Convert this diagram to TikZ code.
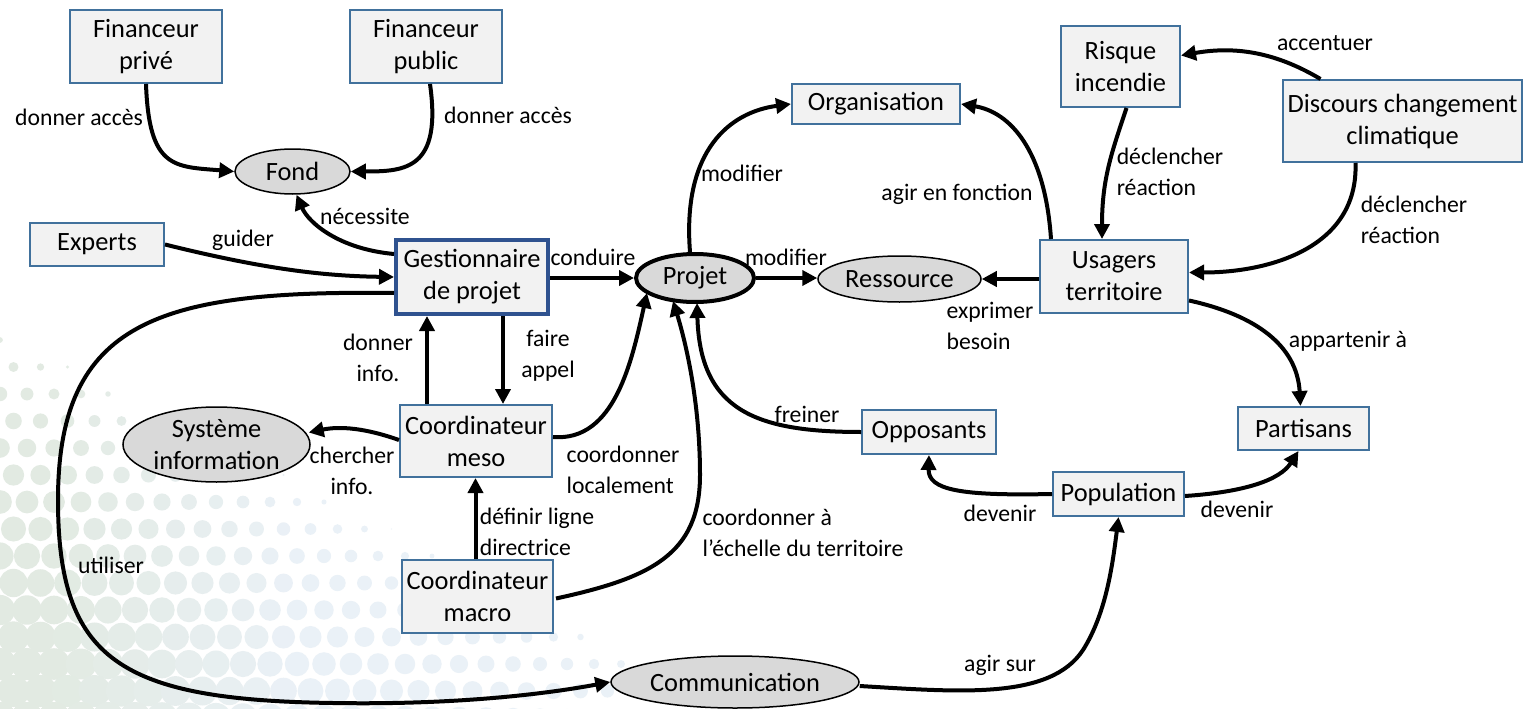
\documentclass[tikz,border=0pt]{standalone}
\usepackage{fontspec}
\setmainfont{Carlito}
\usetikzlibrary{arrows.meta,shapes.geometric,calc}
\definecolor{boxblue}{HTML}{41719C}
\definecolor{gestblue}{HTML}{2F528F}
\definecolor{boxfill}{HTML}{F2F2F2}
\definecolor{ellfill}{HTML}{D9D9D9}
\definecolor{dotG}{HTML}{E2EAE2}
\definecolor{dotB}{HTML}{EAF1F7}
\newcommand\nodefnt{\fontsize{26.4}{32}\selectfont}
\newcommand\labfnt{\fontsize{23.7}{31}\selectfont}
\begin{document}
\begin{tikzpicture}[x=1pt,y=-1pt,
 box/.style={draw=boxblue, fill=boxfill, line width=2pt, align=center, inner sep=0pt, font=\nodefnt},
 ell/.style={ellipse, draw=black, fill=ellfill, line width=1.5pt, inner sep=0pt},
 etxt/.style={align=center, inner sep=0pt, font=\nodefnt},
 lab/.style={align=left, inner sep=0pt, font=\labfnt},
 labc/.style={align=center, inner sep=0pt, font=\labfnt},
 arr/.style={line width=4pt, -{Triangle[length=15pt,width=15pt]}},
]
\fill[white] (0,0) rectangle (1532,709);
\useasboundingbox (0,0) rectangle (1532,709);

% faint halftone background, lower left
\begin{scope}
\clip (0,0) rectangle (1532,709);
\foreach \j in {0,...,14}{
 \foreach \i in {0,...,25}{
  \pgfmathsetmacro\dxx{13.5*mod(\j,2)+27*\i}
  \pgfmathsetmacro\dyy{340+27*\j}
  \pgfmathsetmacro\dff{min(1,max(0,(\dyy-330)/330*1.05-\dxx/620))}
  \pgfmathsetmacro\drr{16*sqrt(\dff)}
  \pgfmathsetmacro\dmix{max(0,min(100,(300-\dxx)/2.5))}
  \ifdim\drr pt>0.6pt \fill[dotG!\dmix!dotB] (\dxx,\dyy) circle[radius=\drr pt]; \fi
 }
}
\end{scope}

% boxes
\node[box, minimum width=152pt, minimum height=73pt] (fpriv) at (146,46.5) {Financeur\\privé};
\node[box, minimum width=152pt, minimum height=73pt] (fpub) at (426,46.5) {Financeur\\public};
\node[box, minimum width=134pt, minimum height=43pt] (exp) at (97,244.5) {Experts};
\node[box, draw=gestblue, line width=4pt, minimum width=152pt, minimum height=74pt] (gest) at (472,277) {Gestionnaire\\de projet};
\node[box, minimum width=168pt, minimum height=40pt] (org) at (876,104) {Organisation};
\node[box, minimum width=119pt, minimum height=81pt] (risque) at (1120.5,66.5) {Risque\\incendie};
\node[box, minimum width=239pt, minimum height=82pt] (disc) at (1402.5,121) {Discours changement\\climatique};
\node[box, minimum width=148pt, minimum height=73pt] (usag) at (1114,276.5) {Usagers\\territoire};
\node[box, minimum width=131pt, minimum height=43pt] (part) at (1303.5,428.5) {Partisans};
\node[box, minimum width=131pt, minimum height=44pt] (pop) at (1118.5,494) {Population};
\node[box, minimum width=134pt, minimum height=44pt] (opp) at (929,432) {Opposants};
\node[box, minimum width=152pt, minimum height=72pt] (meso) at (476,441) {Coordinateur\\meso};
\node[box, minimum width=151pt, minimum height=73pt] (macro) at (477.5,596.5) {Coordinateur\\macro};

% ellipses
\node[ell, minimum width=115pt, minimum height=45pt] (fond) at (292.5,171.5) {};
\node[etxt] (fondt) at (fond) {Fond};
\node[ell, line width=4pt, minimum width=118pt, minimum height=48pt] (projet) at (695,278) {};
\node[etxt] (projett) at (projet) {Projet};
\node[ell, minimum width=163pt, minimum height=46pt] (res) at (899.5,279) {};
\node[etxt] (rest) at (res) {Ressource};
\node[ell, minimum width=248pt, minimum height=52pt] (comm) at (735,682) {};
\node[etxt] (commt) at (comm) {Communication};
\node[ell, minimum width=187pt, minimum height=75pt] (sys) at (216.5,444.5) {};
\node[etxt] (syst) at (sys) {Système\\information};

% connectors
\draw[arr] (fpriv.south) .. controls +(3,85) and +(-60,-5) .. (fond.west);
\draw[arr] ($(fpub.south)+(4,0)$) .. controls +(12,85) and +(55,0) .. (fond.east);
\draw[arr] ($(gest.north west)+(0,16)$) .. controls +(-55,-5) and +(12,28) .. ($(fond.south)+(4,0)$);
\draw[arr] (exp.east) .. controls (260,268) and (320,276) .. (gest.west);
\draw[arr] (gest.east |- projet.west) -- (projet.west);
\draw[arr] ($(projet.north)+(-5,0)$) .. controls (682,150) and (730,112) .. (org.west);
\draw[arr] (projet.east) -- (projet.east -| res.west);
\draw[arr] ($(usag.north west)+(12,0)$) .. controls (1045,150) and (1010,112) .. (org.east);
\draw[arr] (usag.west |- res.east) -- (res.east);
\draw[arr] ($(risque.south)+(6,0)$) .. controls +(-15,45) and +(0,-60) .. ($(usag.north)+(-12,0)$);
\draw[arr] ($(disc.north)+(-82,0)$) .. controls (1280,55) and (1240,45) .. ($(risque.east)+(0,-11)$);
\draw[arr] ($(disc.south)+(-47,0)$) .. controls +(3,85) and +(80,0) .. ($(usag.east)+(0,-4)$);
\draw[arr] ($(usag.east)+(0,24)$) .. controls (1255,315) and (1297,345) .. ($(part.north)+(-3,0)$);
\draw[arr] ($(pop.east)+(0,2)$) .. controls (1245,492) and (1280,480) .. ($(part.south)+(-5,0)$);
\draw[arr] (pop.west) .. controls (960,496) and (928,490) .. (opp.south);
\draw[arr] (opp.west) .. controls (755,432) and (700,410) .. ($(projet.center)+(2,25)$);
\coordinate (g1) at ($(gest.south)+(31,0)$);
\draw[arr] (g1) -- (g1 |- meso.north);
\coordinate (m1) at ($(meso.north)+(-49,0)$);
\draw[arr] (m1) -- (m1 |- gest.south);
\draw[arr] ($(meso.west)+(0,-1)$) .. controls (365,428) and (340,426) .. ($(sys.east)+(-2,-12)$);
\draw[arr] ($(meso.east)+(0,-4)$) .. controls (615,442) and (632,360) .. ($(projet.center)+(-48,15)$);
\coordinate (c1) at ($(macro.north)+(-2,0)$);
\draw[arr] (c1) -- (c1 |- meso.south);
\coordinate (k1) at (700,475);
\draw[arr] ($(macro.east)+(2,2)$) .. controls (650,578) and (700,555) .. (k1) .. controls (700,400) and (685,340) .. ($(projet.center)+(-22,23)$);
\coordinate (u1) at (58,500);
\coordinate (u2) at (333,703);
\draw[arr] ($(gest.west)+(0,16)$) .. controls (160,290) and (58,320) .. (u1) .. controls (58,660) and (120,700) .. (u2) .. controls (450,705) and (540,695) .. (comm.west);
\coordinate (p1) at (1083,650);
\draw[arr] ($(comm.east)+(0,4)$) .. controls (960,692) and (1050,700) .. (p1) .. controls (1105,615) and (1112,570) .. (pop.south);

% labels
\node[labc] (l1) at (79,117) {donner accès};
\node[labc] (l2) at (508,115) {donner accès};
\node[labc] (l3) at (365,216) {nécessite};
\node[labc] (l4) at (243,240) {guider};
\node[labc] (l5) at (593,257) {conduire};
\node[labc] (l6) at (742,173) {modifier};
\node[labc] (l7) at (786,257) {modifier};
\node[labc] (l8) at (957,194) {agir en fonction};
\node[lab] (l9) at (990,326) {exprimer\\besoin};
\node[lab] (l10) at (1170,172) {déclencher\\réaction};
\node[labc] (l11) at (1325,43) {accentuer};
\node[lab] (l12) at (1414,220) {déclencher\\réaction};
\node[labc] (l13) at (1348,341) {appartenir à};
\node[labc] (l14) at (1237,509) {devenir};
\node[labc] (l15) at (1000,513) {devenir};
\node[labc] (l16) at (807,414) {freiner};
\node[labc] (l17) at (548,356) {faire\\appel};
\node[labc] (l18) at (378,358) {donner\\info.};
\node[labc] (l19) at (352,471) {chercher\\info.};
\node[lab] (l20) at (623,470) {coordonner\\localement};
\node[lab] (l21) at (537,532) {définir ligne\\directrice};
\node[lab] (l22) at (803,533) {coordonner à\\l’échelle du territoire};
\node[labc] (l23) at (111,565) {utiliser};
\node[labc] (l24) at (1000,665) {agir sur};
\end{tikzpicture}
\end{document}
